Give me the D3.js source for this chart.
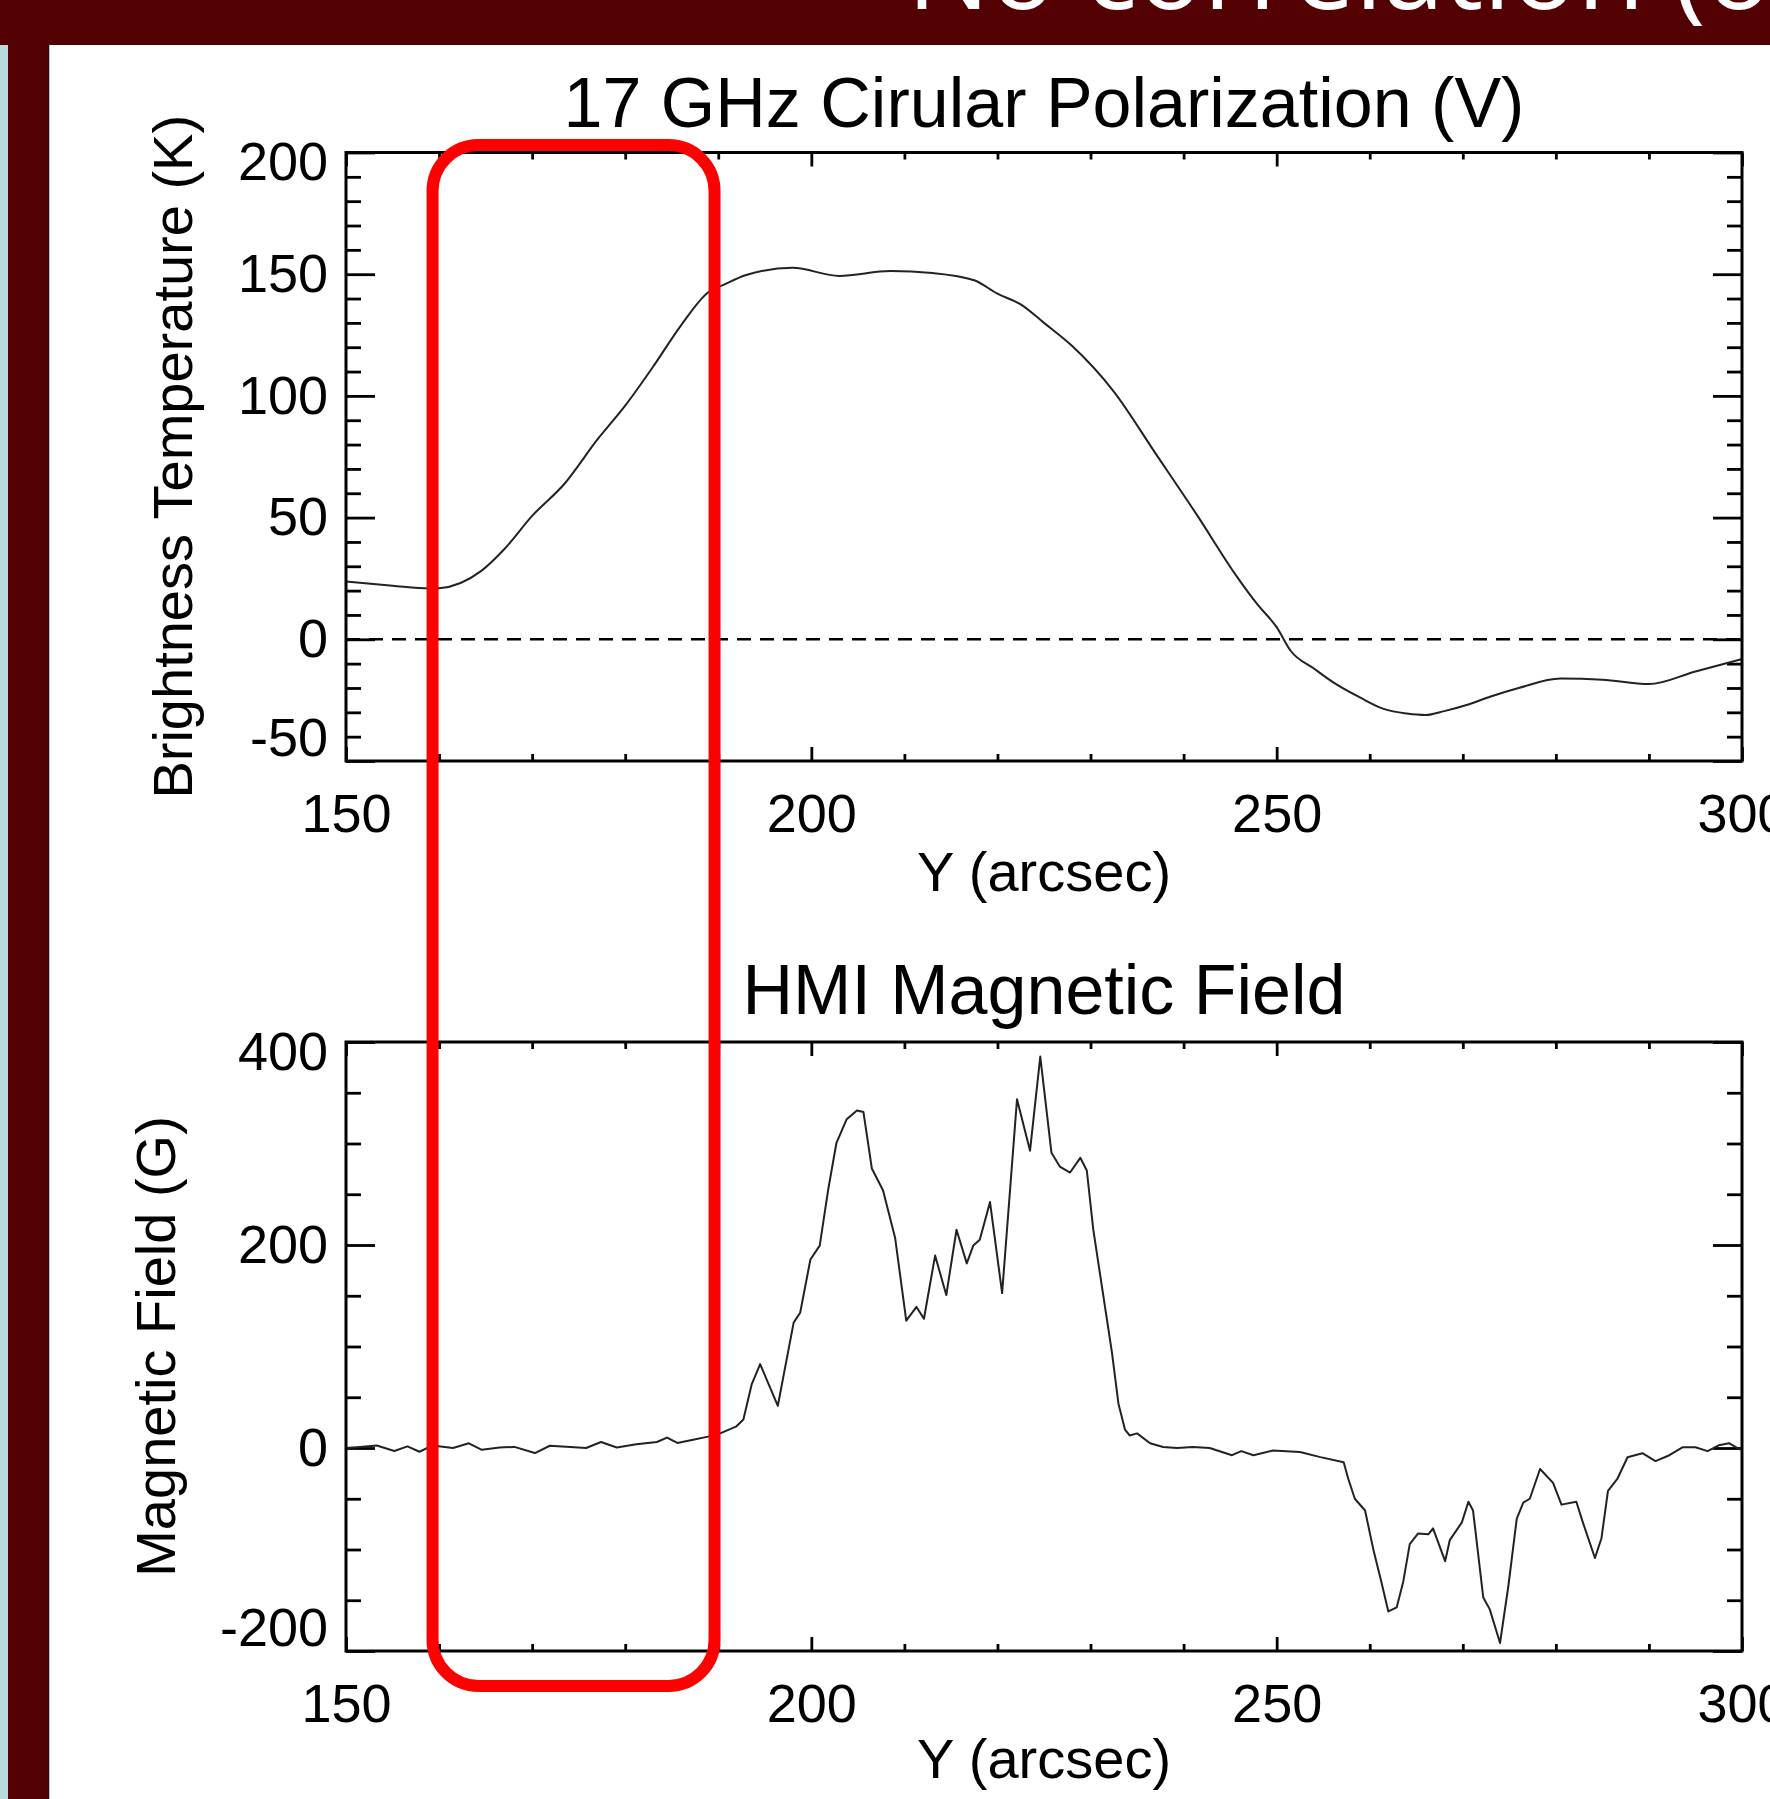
<!DOCTYPE html>
<html>
<head>
<meta charset="utf-8">
<style>
  html, body { margin: 0; padding: 0; background: #fff; overflow: hidden; }
  svg { display: block; }
  .tick line { stroke: #000; stroke-width: 2.8; }
  .axis text { font-family: "Liberation Sans", Arial, sans-serif; font-size: 54px; fill: #000; }
  .label { font-family: "Liberation Sans", Arial, sans-serif; fill: #000; }
</style>
</head>
<body>
<script src="https://cdn.jsdelivr.net/npm/d3@7"></script>
<script>
// 17 GHz circular polarization profile, Y (arcsec) vs brightness temperature (K)
const tbY = [150, 155, 159, 160, 164.5, 167, 170, 173.5, 177, 180, 183, 186, 189, 190.5,
             193, 198, 203, 208.5, 213, 217.5, 220, 222.5, 225, 228, 232.5, 237, 241.5,
             245.5, 248, 250, 251.5, 254, 256, 259, 261.5, 264, 266, 268, 270.5, 273, 276,
             280.5, 285, 290, 295, 300];
const tbV = [23.7, 22, 20.9, 21, 28, 37, 50.7, 64, 82, 96, 112, 129, 142.8, 145.5,
             149.7, 152.6, 149.3, 151.3, 150.5, 147.5, 142, 137.6, 130, 120.6, 101.8, 76.3, 50.7,
             27, 14, 5, -4.7, -12, -17.5, -24, -28.6, -30.5, -31.1, -29.5, -26.9, -23.5, -20,
             -16.1, -16.6, -18.4, -13.2, -8.1];

// HMI line-of-sight magnetic field profile, Y (arcsec) vs B (G)
const hmiY = [150, 151.5, 153.3, 155.2, 156.6, 157.9, 159.3, 161.5, 163.2, 164.6, 166.5, 168.1,
              170.3, 171.9, 174.1, 175.8, 177.4, 179.1, 181.2, 183.4, 184.5, 185.6, 187.3, 188.9,
              190.2, 191.9, 192.7, 193.6, 194.5, 196.4, 198.1, 198.8, 199.9, 200.9, 201.8, 202.7,
              203.8, 204.9, 205.6, 206.5, 207.7, 209, 210.2, 211.3, 212.1, 213.3, 214.5, 215.6,
              216.7, 217.4, 218.1, 219.2, 220.5, 222.1, 223.5, 224.6, 225.8, 226.7, 227.8, 228.9,
              229.6, 230.3, 231.2, 232.3, 233, 233.7, 234.2, 235, 236.4, 237.8, 239.3, 241,
              242.8, 245.2, 246.2, 247.5, 249.6, 252.5, 254.7, 257.2, 257.7, 258.4, 259.5, 260.4,
              261.2, 262, 262.9, 263.6, 264.3, 265.2, 266.3, 266.8, 268.1, 268.6, 269.9, 270.6,
              271.1, 272.2, 272.9, 274, 274.9, 275.8, 276.5, 277.2, 278.3, 279.7, 280.6, 282.2,
              282.9, 284.2, 284.9, 285.6, 286.6, 287.7, 289.3, 290.7, 292.2, 293.6, 295, 296.3,
              297.5, 298.6, 299.7, 300];
const hmiB = [0, 1, 2.5, -2.9, 1.6, -3.7, 2.5, 0, 4.6, -1.8, 0.5, 1.1,
              -5, 2.2, 1.1, 0, 5.9, 0.5, 3.6, 5.9, 10.3, 5, 8.1, 11.2,
              14.4, 21, 28, 63, 82.6, 41.6, 123.5, 133.2, 185.7, 199.4, 253.9, 300.7,
              324, 332.6, 331, 275.4, 253.9, 207.2, 125.4, 139, 127.3, 189.6, 150.7, 215,
              181.9, 199.4, 205.2, 242.3, 152.6, 343.5, 292.9, 385.6, 290.9, 277.3, 271.4, 285.9,
              273.4, 215, 160.4, 94.2, 43.6, 18.2, 12.4, 14.4, 4.7, 1, 0, 1,
              0, -7.1, -3.1, -7.1, -2.4, -3.9, -9, -14.1, -30.5, -50, -61.6, -100.6,
              -130, -161, -157, -131.7, -94.7, -84.2, -85, -79.1, -111.5, -90.8, -73.3, -53,
              -61.6, -147.3, -159, -192.1, -135.7, -69.5, -53.8, -50, -20.7, -34.4, -55.8, -53,
              -73.3, -108.4, -88.9, -42.2, -30.5, -9.1, -5.1, -12.9, -7.1, 0.7, 0.7, -3.1,
              2.7, 4.7, -1.2, 0];

const xTicks = [150, 200, 250, 300];
const tbTicks = [-50, 0, 50, 100, 150, 200];
const hmiTicks = [-200, 0, 200, 400];
const highlight = [159.3, 189.6];

// =============================================================================

const width = 1770,
      height = 1799;

const x0 = 346, x1 = 1742;

const svg = d3.select("body").append("svg")
    .attr("width", width)
    .attr("height", height);

svg.append("rect")
    .attr("width", width)
    .attr("height", height)
    .attr("fill", "#fff");

// slide chrome
svg.append("rect")
    .attr("x", 0).attr("y", 20)
    .attr("width", 8).attr("height", height - 20)
    .attr("fill", "#b6dce0");

svg.append("rect")
    .attr("x", 8).attr("y", 0)
    .attr("width", 40).attr("height", height)
    .attr("fill", "#530002");

svg.append("rect")
    .attr("x", 0).attr("y", 0)
    .attr("width", width).attr("height", 45)
    .attr("fill", "#530002");

svg.append("line")
    .attr("x1", 48.5).attr("x2", 48.5)
    .attr("y1", 45).attr("y2", height)
    .attr("stroke", "#2b0a0a")
    .attr("stroke-width", 1.5);

svg.append("text")
    .attr("x", 907)
    .attr("y", 9)
    .attr("fill", "#fff")
    .style("font-family", "'Open Sans', sans-serif")
    .style("font-size", "110px")
    .text("No correlation (o");

const x = d3.scaleLinear()
    .domain([150, 300])
    .range([x0, x1]);

const minorX = d3.range(150, 301, 10).filter(v => !xTicks.includes(v));

// plain hyphen for negatives, as in the original plot
const fmt = d => String(d);

function panel({ top, bottom, domain, ticks, minorStep, values, ys, curve, title, titleY, ylabel, ylabelX, xlabelY, zero }) {
  const y = d3.scaleLinear()
      .domain(domain)
      .range([bottom, top]);

  const g = svg.append("g");
  const minorY = d3.range(domain[0], domain[1] + 0.001, minorStep).filter(v => !ticks.includes(v));

  // bottom axis with labels
  g.append("g")
      .attr("class", "axis")
      .attr("transform", `translate(0,${bottom})`)
      .call(d3.axisBottom(x).tickValues(xTicks).tickSize(-14).tickPadding(33).tickFormat(fmt))
      .call(a => a.select(".domain").remove());

  g.append("g")
      .attr("transform", `translate(0,${bottom})`)
      .call(d3.axisBottom(x).tickValues(minorX).tickSize(-7).tickFormat(""))
      .call(a => a.select(".domain").remove());

  // mirrored top axis
  g.append("g")
      .attr("transform", `translate(0,${top})`)
      .call(d3.axisTop(x).tickValues(xTicks).tickSize(-14).tickFormat(""))
      .call(a => a.select(".domain").remove());

  g.append("g")
      .attr("transform", `translate(0,${top})`)
      .call(d3.axisTop(x).tickValues(minorX).tickSize(-7).tickFormat(""))
      .call(a => a.select(".domain").remove());

  // left axis with labels
  g.append("g")
      .attr("class", "axis")
      .attr("transform", `translate(${x0},0)`)
      .call(d3.axisLeft(y).tickValues(ticks).tickSize(-29).tickPadding(18).tickFormat(fmt))
      .call(a => a.select(".domain").remove())
      .call(a => a.selectAll(".tick text")
          .attr("y", d => d === domain[0] ? -23 : d === domain[1] ? 10 : 0));

  g.append("g")
      .attr("transform", `translate(${x0},0)`)
      .call(d3.axisLeft(y).tickValues(minorY).tickSize(-15).tickFormat(""))
      .call(a => a.select(".domain").remove());

  // mirrored right axis
  g.append("g")
      .attr("transform", `translate(${x1},0)`)
      .call(d3.axisRight(y).tickValues(ticks).tickSize(-29).tickFormat(""))
      .call(a => a.select(".domain").remove());

  g.append("g")
      .attr("transform", `translate(${x1},0)`)
      .call(d3.axisRight(y).tickValues(minorY).tickSize(-15).tickFormat(""))
      .call(a => a.select(".domain").remove());

  g.selectAll(".axis").attr("font-size", null).attr("font-family", null);

  if (zero) {
    g.append("line")
        .attr("x1", x0).attr("x2", x1)
        .attr("y1", y(0)).attr("y2", y(0))
        .attr("stroke", "#000")
        .attr("stroke-width", 2.4)
        .attr("stroke-dasharray", "14,9");
  }

  const line = d3.line()
      .x((d, i) => x(ys[i]))
      .y(d => y(d))
      .curve(curve);

  g.append("path")
      .datum(values)
      .attr("fill", "none")
      .attr("stroke", "#222")
      .attr("stroke-width", 2)
      .attr("stroke-linejoin", "round")
      .attr("d", line);

  g.append("rect")
      .attr("x", x0).attr("y", top)
      .attr("width", x1 - x0).attr("height", bottom - top)
      .attr("fill", "none")
      .attr("stroke", "#000")
      .attr("stroke-width", 3);

  g.append("text")
      .attr("class", "label")
      .attr("x", (x0 + x1) / 2)
      .attr("y", titleY)
      .attr("text-anchor", "middle")
      .style("font-size", "70px")
      .text(title);

  g.append("text")
      .attr("class", "label")
      .attr("x", (x0 + x1) / 2)
      .attr("y", xlabelY)
      .attr("text-anchor", "middle")
      .style("font-size", "56px")
      .text("Y (arcsec)");

  g.append("text")
      .attr("class", "label")
      .attr("transform", `translate(${ylabelX},${(top + bottom) / 2}) rotate(-90)`)
      .attr("text-anchor", "middle")
      .style("font-size", "56px")
      .text(ylabel);
}

panel({
  top: 152.5, bottom: 761,
  domain: [-50, 200], ticks: tbTicks, minorStep: 10,
  values: tbV, ys: tbY, curve: d3.curveMonotoneX,
  title: "17 GHz Cirular Polarization (V)", titleY: 127,
  ylabel: "Brightness Temperature (K)", ylabelX: 192,
  xlabelY: 891, zero: true
});

panel({
  top: 1042, bottom: 1651,
  domain: [-200, 400], ticks: hmiTicks, minorStep: 50,
  values: hmiB, ys: hmiY, curve: d3.curveLinear,
  title: "HMI Magnetic Field", titleY: 1014,
  ylabel: "Magnetic Field (G)", ylabelX: 175,
  xlabelY: 1778, zero: false
});

// highlighted band spanning both panels
svg.append("rect")
    .attr("x", x(highlight[0]))
    .attr("y", 145)
    .attr("width", x(highlight[1]) - x(highlight[0]))
    .attr("height", 1686 - 145)
    .attr("rx", 46)
    .attr("fill", "none")
    .attr("stroke", "#ff0000")
    .attr("stroke-width", 12);
</script>
</body>
</html>
